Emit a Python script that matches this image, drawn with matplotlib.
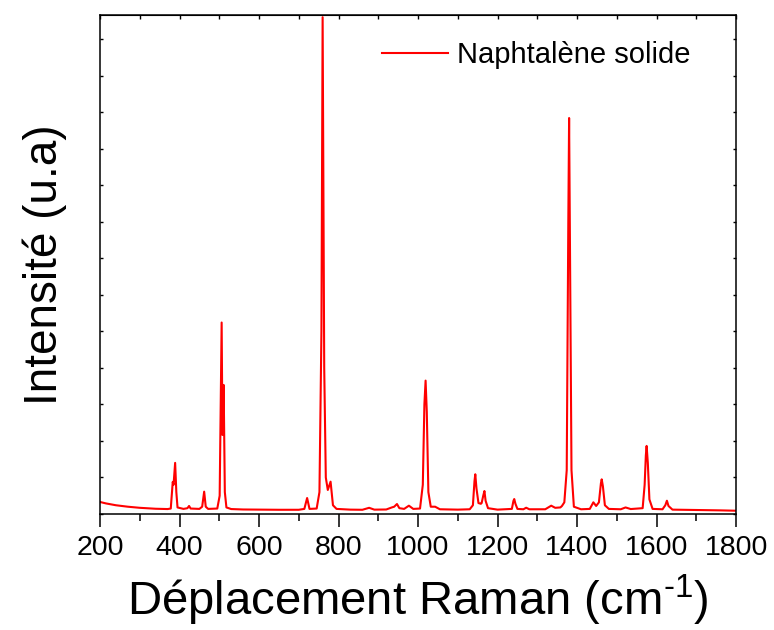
import numpy as np
import matplotlib
matplotlib.use('Agg')
import matplotlib.pyplot as plt
from matplotlib.ticker import MultipleLocator, NullFormatter

plt.rcParams['font.family'] = ['Liberation Sans', 'DejaVu Sans']
plt.rcParams['mathtext.fontset'] = 'custom'
plt.rcParams['mathtext.rm'] = 'Liberation Sans'

# Spectre Raman du naphtalène solide (déplacement en cm-1, intensité en u.a.)
shift = [200, 215, 240, 270, 300, 340, 370, 378, 383, 385, 389, 392, 395,
         410, 420, 424, 428, 450, 457, 462, 466, 472, 495, 501, 506, 508,
         511, 514, 518, 530, 560, 600, 650, 700, 714, 721, 727, 745, 752,
         757, 760, 764, 768, 773, 780, 786, 795, 830, 860, 877, 890, 920,
         934, 940, 947, 953, 965, 977, 988, 1005, 1012, 1016, 1019, 1022,
         1026, 1032, 1043, 1055, 1100, 1130, 1138, 1142, 1144, 1147, 1152,
         1158, 1160, 1164, 1167, 1170, 1176, 1200, 1236, 1240, 1242, 1245,
         1250, 1265, 1272, 1280, 1320, 1335, 1345, 1358, 1362, 1368, 1374,
         1378, 1380, 1383, 1386, 1392, 1410, 1432, 1441, 1448, 1455, 1460,
         1462, 1465, 1470, 1480, 1510, 1522, 1535, 1565, 1570, 1573, 1575,
         1578, 1582, 1590, 1615, 1622, 1626, 1630, 1640, 1700, 1760, 1800]
intensity = [165, 145, 120, 100, 85, 72, 68, 75, 440, 400, 700, 300, 90,
             70, 80, 110, 75, 70, 100, 306, 100, 70, 75, 250, 2621, 1082,
             1767, 300, 90, 68, 62, 60, 58, 58, 70, 219, 70, 75, 300,
             2500, 6800, 2000, 500, 329, 443, 120, 70, 60, 58, 85, 60, 62,
             90, 100, 137, 80, 70, 114, 70, 75, 400, 1500, 1826, 1400,
             300, 100, 100, 65, 60, 65, 120, 450, 544, 350, 150,
             140, 150, 250, 315, 180, 80, 60, 70, 180, 205, 140,
             70, 65, 86, 65, 65, 114, 85, 90, 110, 160, 600,
             4000, 5420, 3000, 600, 100, 65, 70, 160, 110, 160, 420,
             475, 380, 120, 70, 65, 90, 68, 80, 400, 800, 932,
             700, 200, 70, 65, 120, 182, 110, 60, 55, 50, 45]

fig = plt.figure(figsize=(7.74, 6.3), dpi=100)
ax = fig.add_axes([0.1292, 0.1841, 0.8218, 0.7921])

ax.plot(shift, intensity, color='#ff0000', linewidth=1.5,
        solid_joinstyle='round', label='Naphtalène solide')

ax.set_xlim(200, 1800)
ax.set_ylim(0, 6830)

ax.xaxis.set_major_locator(MultipleLocator(200))
ax.xaxis.set_minor_locator(MultipleLocator(100))
ax.yaxis.set_major_locator(MultipleLocator(500))
ax.yaxis.set_major_formatter(NullFormatter())

ax.tick_params(axis='x', which='major', direction='out', length=9, width=1.1,
               labelsize=20.5, pad=6)
ax.tick_params(axis='x', which='minor', direction='out', length=5, width=1.1)
ax.tick_params(axis='y', which='major', direction='in', length=2.5, width=1.0,
               left=True, right=True)

# axe du haut : petites graduations vers l'intérieur
top = ax.secondary_xaxis('top')
top.xaxis.set_major_locator(MultipleLocator(100))
top.xaxis.set_major_formatter(NullFormatter())
top.tick_params(direction='in', length=3, width=1.0)

for s in ax.spines.values():
    s.set_linewidth(1.1)

ax.set_xlabel('Déplacement Raman (cm$^{\\text{-}1}$)', fontsize=34, labelpad=9)
ax.set_ylabel('Intensité (u.a)', fontsize=33, labelpad=20)

ax.legend(loc='center left', bbox_to_anchor=(0.443, 0.92), frameon=False,
          fontsize=21, handlelength=2.27, handletextpad=0.3,
          borderpad=0, borderaxespad=0)

fig.savefig('out.png', dpi=100)
